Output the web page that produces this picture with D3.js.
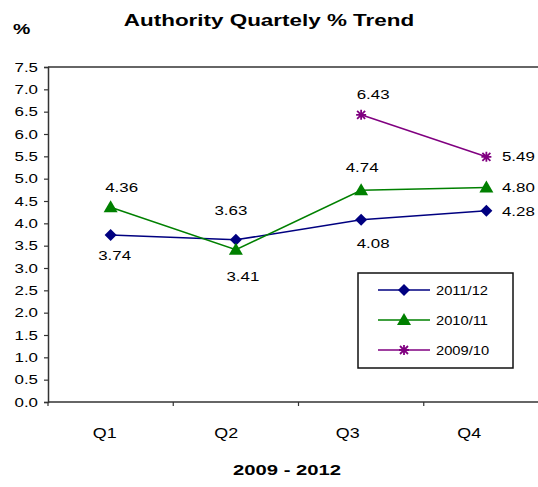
<!DOCTYPE html>
<html>
<head>
<meta charset="utf-8">
<script src="https://cdn.jsdelivr.net/npm/d3@7"></script>
<style>
  body { margin: 0; background: #fff; }
  text { font-family: "Liberation Sans", Arial, sans-serif; fill: #000; }
</style>
</head>
<body>
<svg id="chart" width="538" height="487"></svg>
<script>
// 資料
const quarters = ["Q1", "Q2", "Q3", "Q4"];
const yTicks = [0, 0.5, 1, 1.5, 2, 2.5, 3, 3.5, 4, 4.5, 5, 5.5, 6, 6.5, 7, 7.5];
const seriesNames = ["2011/12", "2010/11", "2009/10"];
const values2011 = [3.74, 3.63, 4.08, 4.28];
const values2010 = [4.36, 3.41, 4.74, 4.80];
const values2009 = [null, null, 6.43, 5.49];

// 標籤位置 (相對於點的偏移)
const labelPos = {
  "2011/12": [[4, 20], [-5, -29], [12, 24], [32, 1]],
  "2010/11": [[11, -20], [7, 27], [1, -23], [32, 0]],
  "2009/10": [null, null, [12, -20], [32, 0]]
};

const series = [
  { name: seriesNames[0], values: values2011, color: "#000080", marker: "diamond" },
  { name: seriesNames[1], values: values2010, color: "#008000", marker: "triangle" },
  { name: seriesNames[2], values: values2009, color: "#800080", marker: "star" }
];

const svg = d3.select("#chart");

const plotL = 48, plotR = 549, plotT = 67, plotB = 402;

const x = d3.scaleBand().domain(quarters).range([plotL, plotR]);
// Excel 的類別文字稍微往左偏
const xLabel = d3.scaleBand().domain(quarters).range([44, 530]);
const y = d3.scaleLinear().domain([0, 7.5]).range([plotB, plotT]);

// 橫向拉寬的文字 (原圖字型偏寬)
function stext(parent, tx, ty, sx, size, txt) {
  return parent.append("text")
    .attr("transform", `translate(${tx},${ty}) scale(${sx},1)`)
    .style("font-size", size + "px")
    .text(txt);
}

// 標題
stext(svg, 269, 26, 1.32, 17, "Authority Quartely % Trend")
  .attr("text-anchor", "middle").style("font-weight", "bold");

stext(svg, 13, 34, 1.3, 15, "%").style("font-weight", "bold");

// 上方框線
svg.append("line")
  .attr("x1", plotL).attr("x2", 538)
  .attr("y1", plotT).attr("y2", plotT)
  .attr("stroke", "#333").attr("stroke-width", 1.5);

// Y 軸
const yAxis = svg.append("g")
  .attr("transform", `translate(${plotL},0)`)
  .call(d3.axisLeft(y).tickValues(yTicks).tickFormat(d3.format(".1f")).tickSize(4).tickPadding(3.7));
yAxis.select(".domain").attr("stroke", "#333").attr("stroke-width", 1.5);
yAxis.selectAll(".tick line").attr("stroke", "#333").attr("stroke-width", 1.2);
yAxis.selectAll(".tick text")
  .attr("transform", "scale(1.3,1)")
  .style("font-family", "'Liberation Sans', Arial, sans-serif")
  .style("font-size", "13px").attr("fill", "#000");

// X 軸
svg.append("line")
  .attr("x1", plotL).attr("x2", 538)
  .attr("y1", plotB).attr("y2", plotB)
  .attr("stroke", "#333").attr("stroke-width", 1.5);
// 類別分隔刻度
svg.selectAll(".xtick")
  .data(quarters)
  .enter().append("line")
  .attr("class", "xtick")
  .attr("x1", d => x(d)).attr("x2", d => x(d))
  .attr("y1", plotB).attr("y2", plotB + 4)
  .attr("stroke", "#333").attr("stroke-width", 1.2);

quarters.forEach(q => {
  stext(svg, xLabel(q) + xLabel.bandwidth() / 2, 438, 1.28, 14, q)
    .attr("text-anchor", "middle");
});

stext(svg, 287, 475, 1.35, 15, "2009 - 2012")
  .attr("text-anchor", "middle").style("font-weight", "bold");

// 折線
const cx = (d, i) => x(quarters[i]) + x.bandwidth() / 2;
const line = d3.line()
  .defined(d => d !== null)
  .x((d, i) => cx(d, i))
  .y(d => y(d));

function drawMarker(g, type, color) {
  if (type === "diamond") {
    g.append("path").attr("d", "M0,-6L6,0L0,6L-6,0Z").attr("fill", color);
  } else if (type === "triangle") {
    g.append("path").attr("d", "M0,-7L7,5L-7,5Z").attr("fill", color);
  } else {
    g.append("path")
      .attr("d", "M-4,-4L4,4M-4,4L4,-4M0,-5L0,5M-5,0L5,0")
      .attr("stroke", color).attr("stroke-width", 1.8).attr("fill", "none");
  }
}

series.forEach(s => {
  svg.append("path")
    .datum(s.values)
    .attr("d", line)
    .attr("fill", "none")
    .attr("stroke", s.color)
    .attr("stroke-width", 1.5);

  s.values.forEach((v, i) => {
    if (v === null) return;
    const g = svg.append("g").attr("transform", `translate(${cx(v, i)},${y(v)})`);
    drawMarker(g, s.marker, s.color);
    const off = labelPos[s.name][i];
    stext(svg, cx(v, i) + off[0], y(v) + off[1], 1.3, 13, v.toFixed(2))
      .attr("dy", "0.35em")
      .attr("text-anchor", "middle");
  });
});

// 圖例
const legend = svg.append("g");
legend.append("rect")
  .attr("x", 358).attr("y", 273)
  .attr("width", 155).attr("height", 95)
  .attr("fill", "#fff").attr("stroke", "#111").attr("stroke-width", 1.5);

series.forEach((s, i) => {
  const ly = 290 + i * 30;
  legend.append("line")
    .attr("x1", 378).attr("x2", 430)
    .attr("y1", ly).attr("y2", ly)
    .attr("stroke", s.color).attr("stroke-width", 1.5);
  const g = legend.append("g").attr("transform", `translate(404,${ly})`);
  drawMarker(g, s.marker, s.color);
  stext(legend, 436, ly, 1.13, 13, s.name)
    .attr("dy", "0.35em");
});
</script>
</body>
</html>
